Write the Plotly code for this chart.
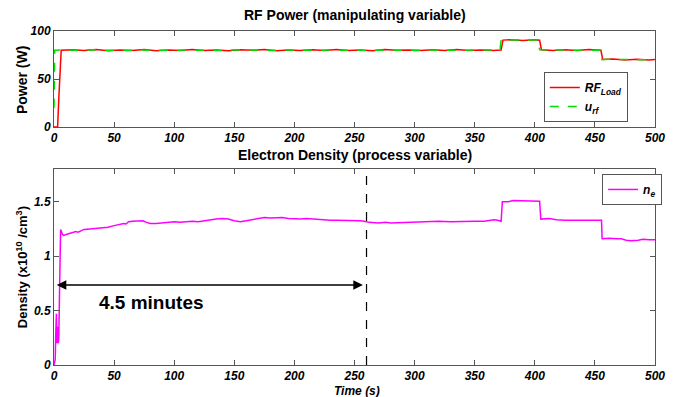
import plotly.graph_objects as go

# ---------------- data ----------------
rf_load_time = [0, 3, 4, 5, 6, 15, 25, 35, 45, 55, 65, 75, 85, 95, 105, 115, 125, 135, 145, 155,
                165, 175, 185, 195, 205, 215, 225, 235, 245, 255, 265, 275, 285, 295, 305, 315,
                325, 335, 345, 355, 365, 372, 373.5, 380, 390, 400, 404, 405.5, 415, 425, 435,
                445, 455, 456.5, 465, 475, 485, 495, 500]
rf_load = [0, 0, 30, 60, 80, 80.5, 79.6, 80.8, 79.4, 80.3, 79.7, 80.6, 79.5, 80.2, 79.8, 80.7,
           79.6, 80.1, 79.4, 80.5, 79.9, 80.8, 79.5, 80.3, 79.7, 80.4, 79.6, 80.6, 79.8, 80.2,
           79.5, 80.7, 79.9, 80.3, 79.6, 80.5, 79.8, 80.6, 79.7, 80.2, 79.6, 80.1, 90.5, 90.9,
           90.2, 90.8, 90.4, 80.5, 79.7, 80.4, 79.8, 80.6, 79.9, 70.4, 70.8, 69.9, 70.6, 69.8, 70.3]

u_rf_time = [0, 0.6, 10, 20, 30, 40, 50, 60, 70, 80, 90, 100, 110, 120, 130, 140, 150, 160, 170,
             180, 190, 200, 210, 220, 230, 240, 250, 260, 270, 280, 290, 300, 310, 320, 330, 340,
             350, 360, 371, 372, 380, 390, 400, 403, 404, 415, 425, 435, 445, 454, 455, 465, 475,
             485, 495, 500]
u_rf = [20, 80, 80.2, 79.8, 80.3, 79.9, 80.1, 79.7, 80.2, 79.9, 80.3, 79.8, 80.1, 79.9, 80.2,
        79.7, 80.3, 79.9, 80.1, 79.8, 80.2, 79.9, 80.3, 79.8, 80.1, 79.9, 80.2, 79.8, 80.1,
        79.9, 80.3, 79.8, 80.2, 79.9, 80.1, 79.8, 80.2, 79.9, 80.1, 90.6, 90.8, 90.5, 90.9,
        90.6, 80.4, 80.1, 79.9, 80.2, 79.8, 80.1, 70.3, 70.5, 70.1, 70.4, 70.0, 70.2]

ne_time = [0, 1, 1.5, 2, 2.5, 3, 3.5, 4, 4.5, 5, 5.5, 6, 7, 8, 10, 12, 15, 18, 20, 23, 25, 30,
           35, 40, 45, 50, 55, 58, 60, 62, 65, 70, 74, 77, 80, 85, 90, 95, 100, 105, 110, 115,
           120, 125, 130, 135, 140, 145, 150, 155, 160, 165, 170, 175, 180, 185, 190, 195, 200,
           205, 210, 215, 220, 225, 230, 235, 240, 245, 250, 255, 258, 262, 270, 276, 280, 290,
           300, 310, 320, 330, 340, 350, 358, 362, 366, 369, 372, 373, 378, 382, 390, 398, 404,
           405, 408, 412, 418, 425, 435, 445, 454, 455.5, 456, 462, 468, 472, 476, 480, 486,
           490, 495, 500]
ne = [0, 0.05, 0.3, 0.47, 0.2, 0.35, 0.2, 0.25, 0.6, 1.0, 1.245, 1.23, 1.20, 1.19, 1.195,
      1.205, 1.215, 1.225, 1.22, 1.235, 1.245, 1.25, 1.255, 1.26, 1.265, 1.28, 1.29, 1.30,
      1.295, 1.315, 1.32, 1.32, 1.325, 1.31, 1.30, 1.30, 1.305, 1.31, 1.315, 1.31, 1.315, 1.32,
      1.315, 1.325, 1.33, 1.34, 1.345, 1.34, 1.325, 1.315, 1.325, 1.335, 1.35, 1.355, 1.35,
      1.35, 1.355, 1.345, 1.34, 1.34, 1.345, 1.34, 1.335, 1.335, 1.33, 1.33, 1.33, 1.33,
      1.325, 1.325, 1.32, 1.31, 1.305, 1.31, 1.305, 1.31, 1.315, 1.315, 1.32, 1.315, 1.32,
      1.32, 1.32, 1.325, 1.335, 1.33, 1.32, 1.50, 1.50, 1.51, 1.51, 1.51, 1.505, 1.34, 1.345,
      1.345, 1.335, 1.33, 1.33, 1.33, 1.33, 1.33, 1.16, 1.165, 1.16, 1.16, 1.145, 1.14, 1.145,
      1.155, 1.15, 1.15]

marker_time = 260          # dashed line (s)
arrow_start = 1
arrow_end = 257
arrow_level = 0.735
label_text = "4.5 minutes"

x_ticks = [0, 50, 100, 150, 200, 250, 300, 350, 400, 450, 500]
power_ticks = [0, 50, 100]
density_ticks = [0, 0.5, 1, 1.5]
density_tick_text = ["0", "0.5", "1", "1.5"]

# ---------------- figure ----------------
FONT = "Liberation Sans, Arial, sans-serif"
tickfont = dict(family=FONT, size=12, color="black", weight="bold", style="italic")

fig = go.Figure()
fig.add_trace(go.Scatter(x=rf_load_time, y=rf_load, mode="lines", name="<b><i>RF<sub>Load</sub></i></b>",
                         line=dict(color="#ff0000", width=1.5), xaxis="x", yaxis="y", legend="legend"))
fig.add_trace(go.Scatter(x=u_rf_time, y=u_rf, mode="lines", name="<b><i>u<sub>rf</sub></i></b>",
                         line=dict(color="#00e000", width=1.5, dash="dash"), xaxis="x", yaxis="y",
                         legend="legend"))
fig.add_trace(go.Scatter(x=ne_time, y=ne, mode="lines", name="<b><i>n<sub>e</sub></i></b>",
                         line=dict(color="#ff00ff", width=1.5), xaxis="x2", yaxis="y2",
                         legend="legend2"))

axis_common = dict(showgrid=False, zeroline=False, showline=True, linecolor="#555555",
                   linewidth=1, mirror="ticks", ticks="inside", ticklen=5, tickcolor="#555555",
                   tickfont=tickfont, automargin=False)

top_dom = [0.7126, 1.0]
bot_dom = [0.0, 0.5868]

# page body has an 8 px margin: compensate so the plot areas land where the reference has them
fig.update_layout(
    width=673, height=389,
    margin=dict(l=46, r=26, t=23, b=32),
    paper_bgcolor="white", plot_bgcolor="white",
    font=dict(family=FONT, color="black"),
    xaxis=dict(domain=[0, 1], anchor="y", range=[0, 500], tickvals=x_ticks, **axis_common),
    yaxis=dict(domain=top_dom, anchor="x", range=[0, 100], tickvals=power_ticks, **axis_common),
    xaxis2=dict(domain=[0, 1], anchor="y2", range=[0, 500], tickvals=x_ticks, **axis_common),
    yaxis2=dict(domain=bot_dom, anchor="x2", range=[0, 1.8], tickvals=density_ticks,
                ticktext=density_tick_text, **axis_common),
    legend=dict(x=0.815, y=0.877, xanchor="left", yanchor="top", bgcolor="white",
                bordercolor="#555555", borderwidth=1, font=dict(family=FONT, size=12),
                tracegroupgap=0, itemwidth=30),
    legend2=dict(x=0.912, y=0.572, xanchor="left", yanchor="top", bgcolor="white",
                 bordercolor="#555555", borderwidth=1, font=dict(family=FONT, size=12),
                 itemwidth=30),
    showlegend=True,
)

# subplot titles
fig.add_annotation(text="<b>RF Power (manipulating variable)</b>", xref="paper", yref="paper",
                   x=0.5, y=1.048, showarrow=False, font=dict(family=FONT, size=14),
                   xanchor="center", yanchor="middle")
fig.add_annotation(text="<b>Electron Density (process variable)</b>", xref="paper", yref="paper",
                   x=0.5, y=0.629, showarrow=False, font=dict(family=FONT, size=14),
                   xanchor="center", yanchor="middle")

# axis titles
fig.add_annotation(text="<b>Power (W)</b>", xref="paper", yref="paper", x=-0.0532,
                   y=0.853, textangle=-90, showarrow=False,
                   font=dict(family=FONT, size=14), xanchor="center", yanchor="middle")
fig.add_annotation(text="<b>Density (x10<sup>10</sup> /cm<sup>3</sup>)</b>", xref="paper",
                   yref="paper", x=-0.0532, y=0.293, textangle=-90, showarrow=False,
                   font=dict(family=FONT, size=13), xanchor="center", yanchor="middle")
fig.add_annotation(text="<b><i>Time (s)</i></b>", xref="paper", yref="paper", x=0.504,
                   y=-0.077, showarrow=False, font=dict(family=FONT, size=12),
                   xanchor="center", yanchor="middle")

# dashed marker line
fig.add_shape(type="line", xref="x2", yref="y2", x0=marker_time, x1=marker_time, y0=0, y1=1.8,
              line=dict(color="black", width=1.2, dash="dash"))

# double-headed arrow
fig.add_annotation(x=arrow_end, y=arrow_level, ax=arrow_start, ay=arrow_level,
                   xref="x2", yref="y2", axref="x2", ayref="y2", text="", showarrow=True,
                   arrowhead=2, startarrowhead=2, arrowside="end+start", arrowsize=1.2,
                   arrowwidth=1.6, arrowcolor="black")
fig.add_annotation(text=label_text, x=arrow_start + 35, y=0.57, xref="x2", yref="y2",
                   xanchor="left", yanchor="middle", showarrow=False,
                   font=dict(family=FONT, size=19, color="black", weight="bold"))

fig.write_html("out.html")
